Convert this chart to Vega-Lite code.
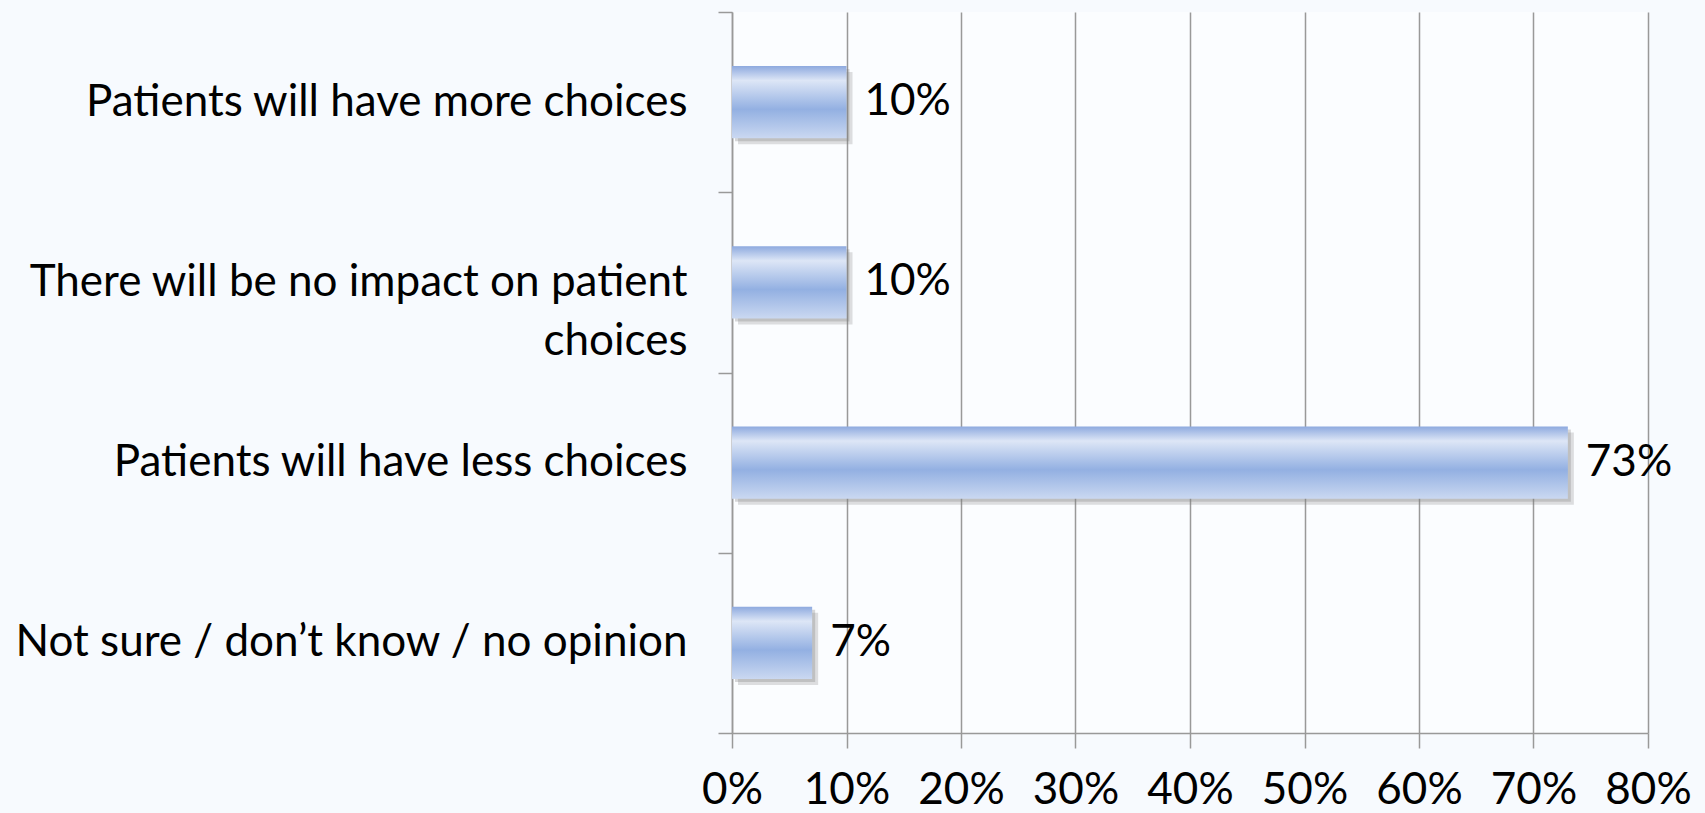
{
  "$schema": "https://vega.github.io/schema/vega-lite/v6.json",
  "width": 916,
  "height": 721,
  "autosize": "none",
  "padding": {"left": 732, "top": 12, "right": 57, "bottom": 80},
  "background": "#f7fafe",
  "config": {
    "view": {"stroke": null, "fill": "#fbfdff"},
    "font": "Lato",
    "axis": {"labelFont": "Lato", "labelColor": "#000000"}
  },
  "data": {
    "values": [
      {"category": "Patients will have more choices\u2002", "value": 0.10, "label": "10%"},
      {"category": "There will be no impact on patient|choices", "value": 0.10, "label": "10%"},
      {"category": "Patients will have less choices\u2002", "value": 0.73, "label": "73%"},
      {"category": "Not sure / don\u2019t know / no opinion", "value": 0.07, "label": "7%"}
    ]
  },
  "encoding": {
    "y": {
      "field": "category",
      "type": "nominal",
      "sort": null,
      "scale": {"paddingInner": 0, "paddingOuter": 0},
      "axis": {
        "title": null,
        "labelExpr": "split(datum.label, '|')",
        "labelFontSize": 44,
        "labelLineHeight": 59,
        "labelPadding": 31,
        "tickSize": 14,
        "tickBand": "extent",
        "tickColor": "#999999",
        "tickWidth": 1.5,
        "domainColor": "#999999",
        "domainWidth": 1.5,
        "grid": false,
        "labelLimit": 800
      }
    }
  },
  "layer": [
    {
      "mark": {"type": "bar", "height": {"band": 0.4}, "xOffset": 6, "yOffset": 6, "color": "#7f7f7f", "opacity": 0.25},
      "encoding": {
        "x": {"field": "value", "type": "quantitative", "scale": {"domain": [0, 0.8]},
          "axis": {
            "title": null,
            "format": ".0%",
            "values": [0, 0.1, 0.2, 0.3, 0.4, 0.5, 0.6, 0.7, 0.8],
            "labelFontSize": 44,
            "labelPadding": 20,
            "tickSize": 15,
            "tickColor": "#999999",
            "tickWidth": 1.5,
            "domainColor": "#999999",
            "domainWidth": 1.5,
            "gridColor": "#999999",
            "gridWidth": 1.5,
            "labelFlush": false
          }
        }
      }
    },
    {
      "mark": {"type": "bar", "height": {"band": 0.4}, "xOffset": 3, "yOffset": 3, "color": "#7f7f7f", "opacity": 0.3},
      "encoding": {"x": {"field": "value", "type": "quantitative"}}
    },
    {
      "mark": {
        "type": "bar",
        "height": {"band": 0.4},
        "color": {
          "gradient": "linear", "x1": 0, "y1": 0, "x2": 0, "y2": 1,
          "stops": [
            {"offset": 0, "color": "#8eaadf"},
            {"offset": 0.2, "color": "#dde6f6"},
            {"offset": 0.6, "color": "#93b0e2"},
            {"offset": 1, "color": "#cad8f1"}
          ]
        }
      },
      "encoding": {"x": {"field": "value", "type": "quantitative"}}
    },
    {
      "mark": {"type": "text", "align": "left", "baseline": "middle", "dx": 18, "fontSize": 44, "color": "#000000"},
      "encoding": {
        "x": {"field": "value", "type": "quantitative"},
        "text": {"field": "label"}
      }
    }
  ]
}
